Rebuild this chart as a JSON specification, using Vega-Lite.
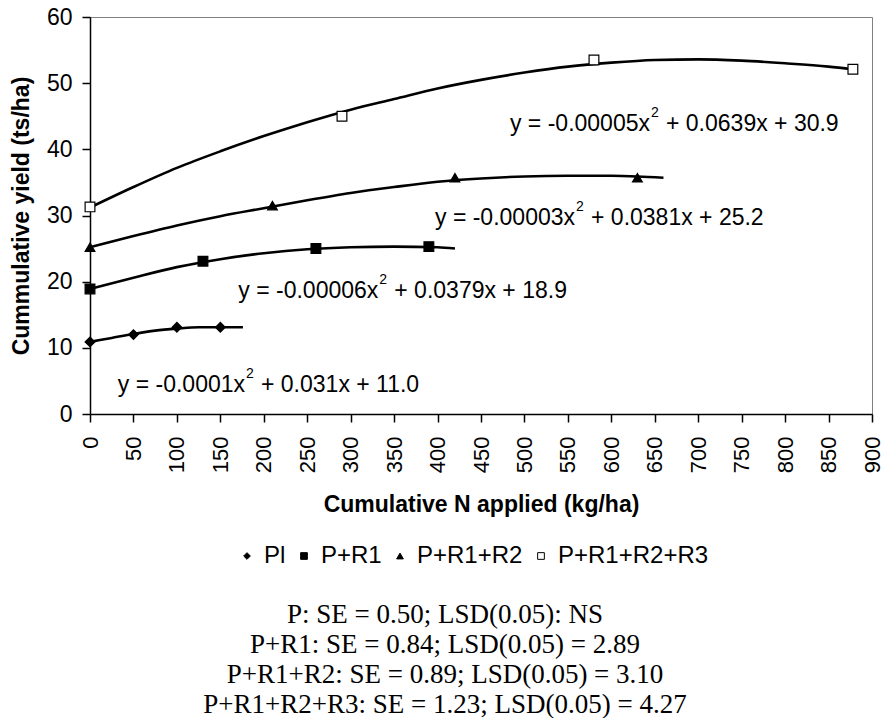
{
  "$schema": "https://vega.github.io/schema/vega-lite/v6.json",
  "width": 782,
  "height": 397,
  "autosize": {"type": "none"},
  "padding": {"left": 90, "top": 17, "right": 10, "bottom": 304},
  "background": "white",
  "config": {
    "view": {"stroke": "#808080", "strokeWidth": 1},
    "font": "Liberation Sans",
    "axis": {
      "grid": false,
      "domainColor": "black",
      "domainWidth": 1.5,
      "tickColor": "black",
      "tickWidth": 1.5,
      "tickSize": 8,
      "labelFont": "Liberation Sans",
      "labelFontSize": 22,
      "labelColor": "black",
      "titleFont": "Liberation Sans",
      "titleFontSize": 23,
      "titleFontWeight": "bold",
      "titleColor": "black"
    },
    "legend": {
      "labelFont": "Liberation Sans",
      "labelFontSize": 24,
      "labelColor": "black",
      "symbolSize": 45,
      "symbolStrokeColor": "black",
      "symbolStrokeWidth": 1,
      "labelOffset": 5,
      "columnPadding": 6
    }
  },
  "title": {
    "text": [
      "P: SE = 0.50; LSD(0.05): NS",
      "P+R1: SE = 0.84; LSD(0.05) = 2.89",
      "P+R1+R2: SE = 0.89; LSD(0.05) = 3.10",
      "P+R1+R2+R3: SE = 1.23; LSD(0.05) = 4.27"
    ],
    "orient": "bottom",
    "anchor": "middle",
    "font": "Liberation Serif",
    "fontSize": 27,
    "fontWeight": "normal",
    "color": "black",
    "lineHeight": 30,
    "dx": -36,
    "offset": 34
  },
  "datasets": {
    "points": [
      {"series": "Pl", "n": 0, "yield": 10.9},
      {"series": "Pl", "n": 50, "yield": 12.0},
      {"series": "Pl", "n": 100, "yield": 13.1},
      {"series": "Pl", "n": 150, "yield": 13.1},
      {"series": "P+R1", "n": 0, "yield": 18.9},
      {"series": "P+R1", "n": 130, "yield": 23.1},
      {"series": "P+R1", "n": 260, "yield": 25.0},
      {"series": "P+R1", "n": 390, "yield": 25.3},
      {"series": "P+R1+R2", "n": 0, "yield": 25.2},
      {"series": "P+R1+R2", "n": 210, "yield": 31.5},
      {"series": "P+R1+R2", "n": 420, "yield": 35.7},
      {"series": "P+R1+R2", "n": 630, "yield": 35.7},
      {"series": "P+R1+R2+R3", "n": 0, "yield": 31.3},
      {"series": "P+R1+R2+R3", "n": 290, "yield": 45.0},
      {"series": "P+R1+R2+R3", "n": 580, "yield": 53.5},
      {"series": "P+R1+R2+R3", "n": 878, "yield": 52.1}
    ],
    "curves": [
      {"series": "Pl", "n": 0, "yield": 10.9},
      {"series": "Pl", "n": 25, "yield": 11.5},
      {"series": "Pl", "n": 50, "yield": 12.1},
      {"series": "Pl", "n": 75, "yield": 12.6},
      {"series": "Pl", "n": 100, "yield": 12.9},
      {"series": "Pl", "n": 125, "yield": 13.1},
      {"series": "Pl", "n": 150, "yield": 13.1},
      {"series": "Pl", "n": 176, "yield": 13.1},
      {"series": "P+R1", "n": 0, "yield": 18.9},
      {"series": "P+R1", "n": 50, "yield": 20.6},
      {"series": "P+R1", "n": 100, "yield": 22.2},
      {"series": "P+R1", "n": 150, "yield": 23.4},
      {"series": "P+R1", "n": 200, "yield": 24.3},
      {"series": "P+R1", "n": 250, "yield": 24.9},
      {"series": "P+R1", "n": 300, "yield": 25.2},
      {"series": "P+R1", "n": 350, "yield": 25.3},
      {"series": "P+R1", "n": 400, "yield": 25.2},
      {"series": "P+R1", "n": 420, "yield": 25.0},
      {"series": "P+R1+R2", "n": 0, "yield": 25.2},
      {"series": "P+R1+R2", "n": 50, "yield": 26.9},
      {"series": "P+R1+R2", "n": 100, "yield": 28.5},
      {"series": "P+R1+R2", "n": 150, "yield": 29.9},
      {"series": "P+R1+R2", "n": 200, "yield": 31.1},
      {"series": "P+R1+R2", "n": 250, "yield": 32.3},
      {"series": "P+R1+R2", "n": 300, "yield": 33.4},
      {"series": "P+R1+R2", "n": 350, "yield": 34.3},
      {"series": "P+R1+R2", "n": 400, "yield": 35.1},
      {"series": "P+R1+R2", "n": 450, "yield": 35.6},
      {"series": "P+R1+R2", "n": 500, "yield": 35.9},
      {"series": "P+R1+R2", "n": 550, "yield": 36.0},
      {"series": "P+R1+R2", "n": 600, "yield": 36.0},
      {"series": "P+R1+R2", "n": 630, "yield": 35.9},
      {"series": "P+R1+R2", "n": 660, "yield": 35.7},
      {"series": "P+R1+R2+R3", "n": 0, "yield": 31.2},
      {"series": "P+R1+R2+R3", "n": 50, "yield": 34.3},
      {"series": "P+R1+R2+R3", "n": 100, "yield": 37.2},
      {"series": "P+R1+R2+R3", "n": 150, "yield": 39.7},
      {"series": "P+R1+R2+R3", "n": 200, "yield": 42.0},
      {"series": "P+R1+R2+R3", "n": 250, "yield": 44.1},
      {"series": "P+R1+R2+R3", "n": 300, "yield": 46.0},
      {"series": "P+R1+R2+R3", "n": 350, "yield": 47.6},
      {"series": "P+R1+R2+R3", "n": 400, "yield": 49.2},
      {"series": "P+R1+R2+R3", "n": 450, "yield": 50.5},
      {"series": "P+R1+R2+R3", "n": 500, "yield": 51.6},
      {"series": "P+R1+R2+R3", "n": 550, "yield": 52.5},
      {"series": "P+R1+R2+R3", "n": 600, "yield": 53.1},
      {"series": "P+R1+R2+R3", "n": 650, "yield": 53.5},
      {"series": "P+R1+R2+R3", "n": 700, "yield": 53.6},
      {"series": "P+R1+R2+R3", "n": 750, "yield": 53.4},
      {"series": "P+R1+R2+R3", "n": 800, "yield": 53.0},
      {"series": "P+R1+R2+R3", "n": 850, "yield": 52.5},
      {"series": "P+R1+R2+R3", "n": 878, "yield": 52.1}
    ],
    "equations": [
      {"n": 178.4, "yield": 3.37, "pre": "y = -0.0001x", "sup": "2", "post": "+ 0.031x + 11.0"},
      {"n": 331.8, "yield": 17.58, "pre": "y = -0.00006x", "sup": "2", "post": "+ 0.0379x + 18.9"},
      {"n": 558.2, "yield": 28.56, "pre": "y = -0.00003x", "sup": "2", "post": "+ 0.0381x + 25.2"},
      {"n": 644.5, "yield": 42.8, "pre": "y = -0.00005x", "sup": "2", "post": "+ 0.0639x + 30.9"}
    ]
  },
  "encoding": {
    "x": {
      "field": "n", "type": "quantitative",
      "scale": {"domain": [0, 900], "nice": false, "zero": true},
      "axis": {
        "values": [0,50,100,150,200,250,300,350,400,450,500,550,600,650,700,750,800,850,900],
        "labelAngle": -90,
        "labelPadding": 14,
        "labelFlush": false,
        "labelOverlap": false,
        "title": "Cumulative N applied (kg/ha)",
        "titleY": 97,
        "titleBaseline": "alphabetic"
      }
    },
    "y": {
      "field": "yield", "type": "quantitative",
      "scale": {"domain": [0, 60], "nice": false},
      "axis": {
        "values": [0,10,20,30,40,50,60],
        "labelFontSize": 23,
        "labelPadding": 10,
        "labelFlush": false,
        "title": "Cummulative yield (ts/ha)",
        "titleX": -62,
        "titleBaseline": "alphabetic"
      }
    }
  },
  "layer": [
    {
      "data": {"name": "curves"},
      "mark": {"type": "line", "color": "black", "strokeWidth": 2.6, "interpolate": "monotone"},
      "encoding": {"detail": {"field": "series"}}
    },
    {
      "data": {"name": "points"},
      "mark": {"type": "point", "filled": true, "size": 95, "strokeWidth": 1.2, "opacity": 1},
      "encoding": {
        "shape": {
          "field": "series", "type": "nominal",
          "scale": {"domain": ["Pl", "P+R1", "P+R1+R2", "P+R1+R2+R3"], "range": ["diamond", "square", "triangle-up", "square"]},
          "legend": {"title": null, "orient": "none", "direction": "horizontal", "legendX": 145, "legendY": 527}
        },
        "fill": {
          "field": "series", "type": "nominal",
          "scale": {"domain": ["Pl", "P+R1", "P+R1+R2", "P+R1+R2+R3"], "range": ["black", "black", "black", "white"]},
          "legend": {"title": null, "orient": "none", "direction": "horizontal", "legendX": 145, "legendY": 527}
        },
        "stroke": {
          "field": "series", "type": "nominal",
          "scale": {"domain": ["Pl", "P+R1", "P+R1+R2", "P+R1+R2+R3"], "range": ["black", "black", "black", "black"]},
          "legend": {"title": null, "orient": "none", "direction": "horizontal", "legendX": 145, "legendY": 527}
        }
      }
    },
    {
      "data": {"name": "equations"},
      "mark": {"type": "text", "align": "right", "baseline": "alphabetic", "fontSize": 23, "color": "black", "font": "Liberation Sans"},
      "encoding": {"text": {"field": "pre"}}
    },
    {
      "data": {"name": "equations"},
      "mark": {"type": "text", "align": "left", "baseline": "alphabetic", "fontSize": 14, "dx": 1, "dy": -14, "color": "black", "font": "Liberation Sans"},
      "encoding": {"text": {"field": "sup"}}
    },
    {
      "data": {"name": "equations"},
      "mark": {"type": "text", "align": "left", "baseline": "alphabetic", "fontSize": 23, "dx": 16, "color": "black", "font": "Liberation Sans"},
      "encoding": {"text": {"field": "post"}}
    }
  ]
}
